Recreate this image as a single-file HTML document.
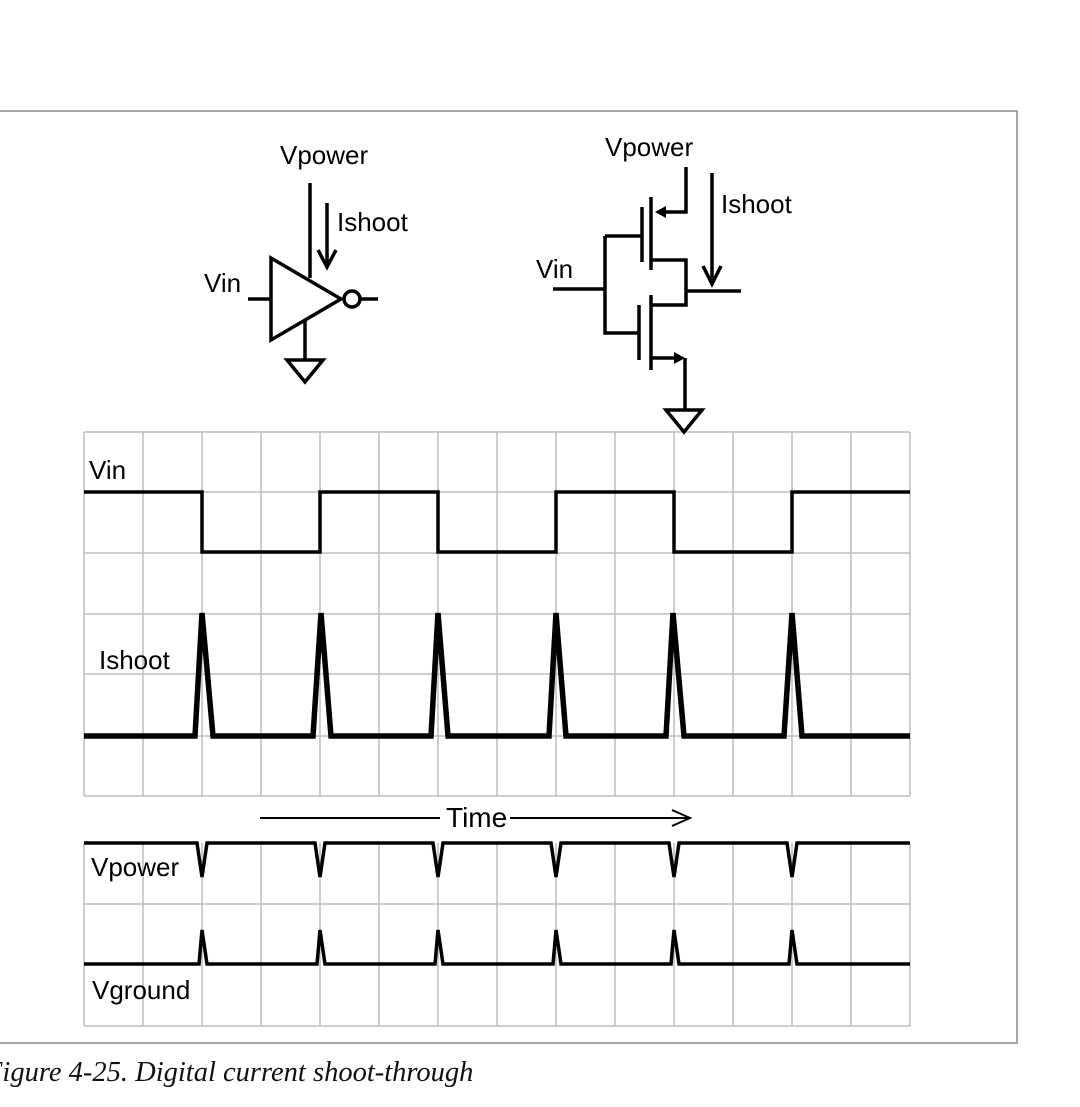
<!DOCTYPE html>
<html><head><meta charset="utf-8"><style>html,body{margin:0;padding:0;background:#fff}svg{display:block}</style></head>
<body>
<svg width="1080" height="1107" viewBox="0 0 1080 1107" xmlns="http://www.w3.org/2000/svg" font-family="Liberation Sans, Arial, sans-serif">
<rect x="-5" y="111" width="1022" height="932" fill="none" stroke="#888" stroke-width="1.5"/>
<g stroke="#bdbdbd" stroke-width="1.5" fill="none">
<path d="M84 432V796M143 432V796M202 432V796M261 432V796M320 432V796M379 432V796M438 432V796M497 432V796M556 432V796M615 432V796M674 432V796M733 432V796M792 432V796M851 432V796M910 432V796"/>
<path d="M84 432H910M84 492H910M84 553H910M84 614H910M84 674H910M84 736H910M84 796H910"/>
<path d="M84 843V1026M143 843V1026M202 843V1026M261 843V1026M320 843V1026M379 843V1026M438 843V1026M497 843V1026M556 843V1026M615 843V1026M674 843V1026M733 843V1026M792 843V1026M851 843V1026M910 843V1026"/>
<path d="M84 904H910M84 1026H910"/>
</g>
<g stroke="#000" fill="none" stroke-width="3.5">
<path d="M310 183V278"/>
<path d="M271 258L271 340L341 299Z"/>
<circle cx="352" cy="299" r="8"/>
<path d="M360 299H378M248 299H271"/>
<path d="M327 203V265M318 250L327 267L336 250"/>
<path d="M305 320V360M287 360H323L305 382Z"/>
<path d="M686 167V212H660"/>
<path d="M651 197V270M642 207V262"/>
<path d="M605 236H642M605 236V333H639M553 289H605"/>
<path d="M651 260H686V305H651M686 291H741"/>
<path d="M651 295V370M639 305V360"/>
<path d="M651 358H678M685 358V410M666 410H702L684 432Z"/>
<path d="M712 173V282M703 266L712 284L721 266"/>
<path d="M84 492H202V552H320V492H438V552H556V492H674V552H792V492H910"/>
<path d="M260 818H440M510 818H690M672 810L690 818L672 826" stroke-width="2"/>
<path d="M84 843H197L202 877L207 843H315L320 877L325 843H433L438 877L443 843H551L556 877L561 843H669L674 877L679 843H787L792 877L797 843H910"/>
<path d="M84 964H199L202 930L207 964H317L320 930L325 964H435L438 930L443 964H553L556 930L561 964H671L674 930L679 964H789L792 930L797 964H910"/>
</g>
<g fill="#000">
<path d="M655 212L666 206V218Z"/>
<path d="M685 358L674 352V364Z"/>
</g>
<path d="M84 736H195L202 613L213 736H313L321 613L331 736H431L438 613L448 736H549L556 613L566 736H666L673 613L684 736H784L792 613L802 736H910" stroke="#000" stroke-width="5.5" fill="none"/>
<g font-size="26" fill="#000">
<text x="280" y="164">Vpower</text>
<text x="337" y="231">Ishoot</text>
<text x="204" y="292">Vin</text>
<text x="605" y="156">Vpower</text>
<text x="721" y="213">Ishoot</text>
<text x="536" y="278">Vin</text>
<text x="89" y="479">Vin</text>
<text x="99" y="669">Ishoot</text>
<text x="91" y="876">Vpower</text>
<text x="92" y="999">Vground</text>
</g>
<text x="446" y="827" font-size="28" fill="#000">Time</text>
<text x="-15" y="1081" font-family="Liberation Serif, serif" font-style="italic" font-size="28.5" fill="#111">Figure 4-25. Digital current shoot-through</text>
</svg>
</body></html>
